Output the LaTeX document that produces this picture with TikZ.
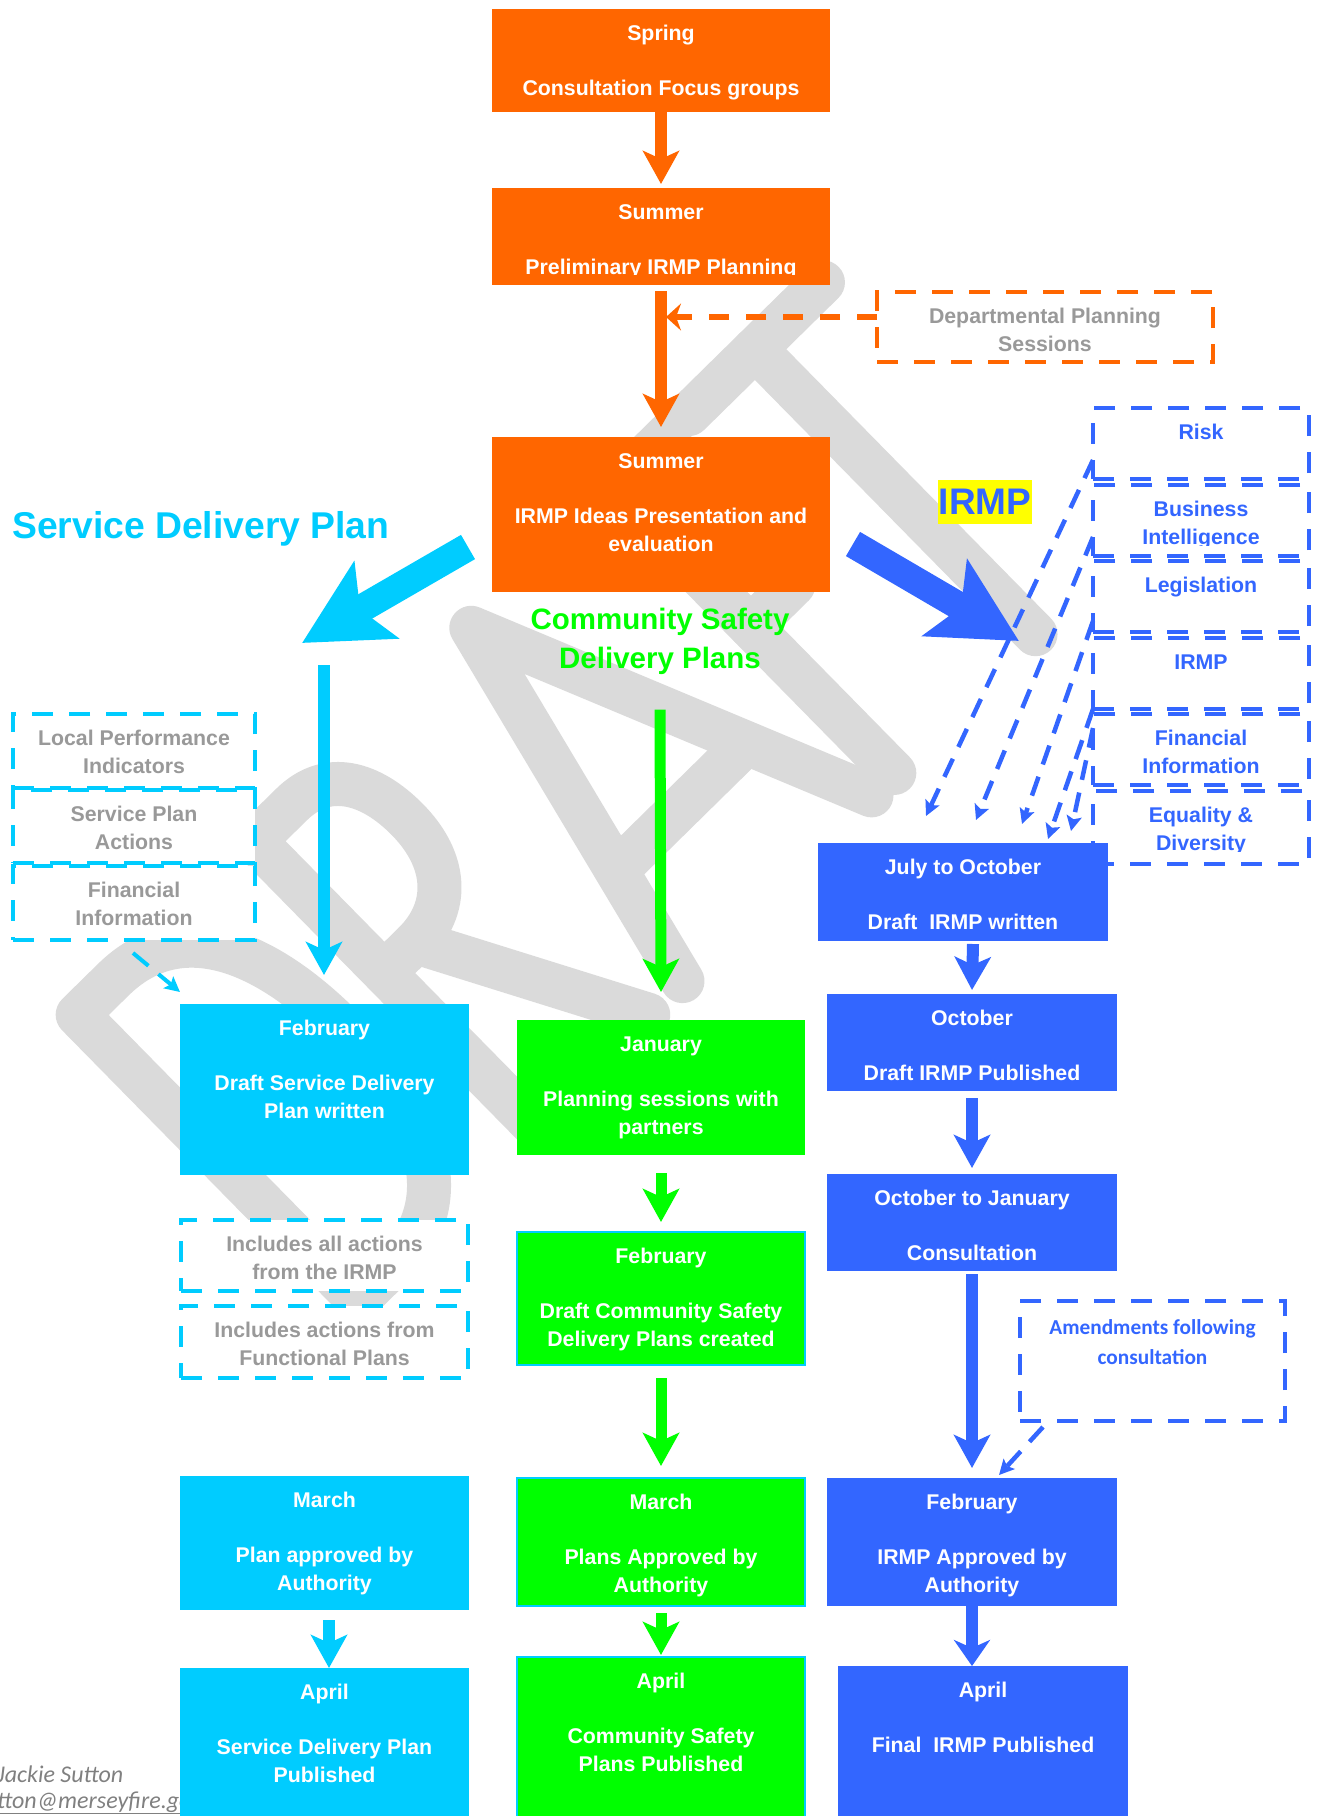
\documentclass[tikz,border=0pt]{standalone}
\usepackage{fontspec}
\setmainfont{Liberation Sans}
\newfontfamily\calibri{Carlito}
\usetikzlibrary{arrows.meta}
\definecolor{orng}{HTML}{FF6600}
\definecolor{cyn}{HTML}{00CCFF}
\definecolor{grn}{HTML}{00FF00}
\definecolor{blu}{HTML}{3366FF}
\definecolor{ylw}{HTML}{FFFF00}
\definecolor{txtgray}{HTML}{999999}
\definecolor{wmgray}{HTML}{DADADA}
\definecolor{footgray}{HTML}{808080}
\tikzset{
  box/.style={inner sep=0pt, outer sep=0pt, anchor=north west},
  solidbox/.style={box, fill=#1},
  dbox/.style={box, draw=#1, fill=white, line width=4.5pt, dash pattern=on 21pt off 16pt},
  btxt/.style={inner sep=0pt, anchor=north, align=center, font=\bfseries\fontsize{21.3pt}{28pt}\selectfont},
  wtxt/.style={btxt, text=white},
  varrow/.style={line width=12pt, -{Stealth[length=33pt, width=36pt, inset=8pt]}},
  bigarrow/.style={line width=28pt, -{Stealth[length=85pt, width=87pt, inset=18pt]}},
  darrow/.style={line width=4.5pt, dash pattern=on 20pt off 13pt, -{Stealth[length=15pt, width=15pt, inset=3pt]}},
  wmstroke/.style={draw=wmgray, line width=44pt, line cap=round, line join=round}
}
% solid box: name, colour, x, y, w, h, text
\newcommand\sbx[7]{%
  \node[solidbox=#2, minimum width=#5pt, minimum height=#6pt] (#1) at (#3,#4) {};
  \node[wtxt] (#1T) at ([yshift=-11.9pt]#1.north) {\strut #7};}
% dashed box: name, colour, text colour, x, y, w, h, text
\newcommand\dbx[8]{%
  \node[dbox=#2, minimum width=#6pt, minimum height=#7pt] (#1) at (#4,#5) {};
  \node[btxt, text=#3] (#1T) at ([yshift=-11.9pt]#1.north) {\strut #8};}
\begin{document}
\begin{tikzpicture}[x=1pt,y=-1pt]
\useasboundingbox (0,0) rectangle (1322,1816);
\clip (0,0) rectangle (1322,1816);

% ---------- watermark "DRAFT" drawn as thick strokes ----------
\begin{scope}[shift={(358,1300)}, y=1pt, rotate=44.5]
  % D
  \draw[wmstroke] (0,0) -- (0,400) -- (50,400) .. controls (140,400) and (180,320) .. (180,200)
        .. controls (180,80) and (140,0) .. (50,0) -- cycle;
  % R
  \draw[wmstroke] (248,0) -- (248,400) -- (300,400) .. controls (350,400) and (372,360) .. (372,308)
        .. controls (372,250) and (340,215) .. (290,215) -- (248,215);
  \draw[wmstroke] (292,215) -- (407,0);
  % A
  \draw[wmstroke] (455,0) -- (552,400) -- (720,0);
  \draw[wmstroke] (486,125) -- (667,125);
  % F
  \draw[wmstroke] (752,0) -- (752,400) -- (830,400);
  \draw[wmstroke] (752,205) -- (812,205);
  % T
  \draw[wmstroke] (857,400) -- (1045,400);
  \draw[wmstroke] (950,400) -- (950,0);
\end{scope}

% ---------- orange ----------
\sbx{spring}{orng}{492}{9}{338}{103}{Spring\\[26.5pt]Consultation Focus groups}
\node[solidbox=orng, minimum width=338pt, minimum height=97pt] (summer1) at (492,188) {};
\begin{scope}
  \clip (summer1.north west) rectangle ([yshift=10.5pt]summer1.south east);
  \node[wtxt] (summer1T) at ([yshift=-11.9pt]summer1.north) {\strut Summer\\[26.5pt]Preliminary IRMP Planning};
\end{scope}
\sbx{summer2}{orng}{492}{437}{338}{155}{Summer\\[26.5pt]IRMP Ideas Presentation and\\evaluation}
\dbx{dept}{orng}{txtgray}{877}{292}{336}{70}{Departmental Planning\\Sessions}

% titles
\node[anchor=base west, inner sep=0pt, text=cyn, font=\bfseries\fontsize{37.3pt}{40pt}\selectfont] (sdp) at (12,538) {Service Delivery Plan};
\node[fill=ylw, inner sep=0pt, minimum width=94pt, minimum height=44pt, text=blu, font=\bfseries\fontsize{37pt}{40pt}\selectfont] (irmplabel) at (985,502) {IRMP};
\node[inner sep=0pt, anchor=north, align=center, text=grn, font=\bfseries\fontsize{29.5pt}{39pt}\selectfont] (csdp) at (660,601.7) {\strut Community Safety\\Delivery Plans};

% ---------- cyan column ----------
\dbx{lpi}{cyn}{txtgray}{13}{714}{242}{74}{Local Performance\\Indicators}
\dbx{spa}{cyn}{txtgray}{13}{790}{242}{73}{Service Plan\\Actions}
\dbx{fi}{cyn}{txtgray}{13}{866}{242}{74}{Financial\\Information}
\sbx{febC}{cyn}{180}{1004}{289}{171}{February\\[26.5pt]Draft Service Delivery\\Plan written}
\dbx{incA}{cyn}{txtgray}{181}{1220}{287}{71}{Includes all actions\\from the IRMP}
\dbx{incB}{cyn}{txtgray}{181}{1306}{287}{72}{Includes actions from\\Functional Plans}
\sbx{marchC}{cyn}{180}{1476}{289}{134}{March\\[26.5pt]Plan approved by\\Authority}

% footer (partly under the April box)
\node[anchor=base west, inner sep=0pt, text=footgray, font=\calibri\itshape\fontsize{24pt}{28pt}\selectfont] (author) at (-3,1782) {Jackie Sutton};
\node[anchor=base west, inner sep=0pt, text=footgray, font=\calibri\itshape\fontsize{24pt}{28pt}\selectfont] (email) at (-3,1808) {\underline{tton@merseyfire.gov.uk}};

\sbx{aprilC}{cyn}{180}{1668}{289}{170}{April\\[26.5pt]Service Delivery Plan\\Published}

% ---------- green column ----------
\sbx{janG}{grn}{517}{1020}{288}{135}{January\\[26.5pt]Planning sessions with\\partners}
\sbx{febG}{grn}{517}{1232}{288}{133}{February\\[26.5pt]Draft Community Safety\\Delivery Plans created}
\sbx{marchG}{grn}{517}{1478}{288}{128}{March\\[26.5pt]Plans Approved by\\Authority}
\sbx{aprilG}{grn}{517}{1657}{288}{170}{April\\[26.5pt]Community Safety\\Plans Published}
\foreach \n in {febG,marchG,aprilG} \draw[cyn, line width=2pt] (\n.north west) rectangle (\n.south east);

% ---------- blue column ----------
\dbx{risk}{blu}{blu}{1093}{408}{216}{71}{Risk}
\node[dbox=blu, minimum width=216pt, minimum height=71pt] (bi) at (1093,485) {};
\begin{scope}
  \clip (bi.north west) rectangle ([yshift=11pt]bi.south east);
  \node[btxt, text=blu] (biT) at ([yshift=-11.9pt]bi.north) {\strut Business\\Intelligence};
\end{scope}
\dbx{leg}{blu}{blu}{1093}{561}{216}{71}{Legislation}
\dbx{irmp}{blu}{blu}{1093}{638}{216}{71}{IRMP}
\dbx{fin}{blu}{blu}{1093}{714}{216}{71}{Financial\\Information}
\node[dbox=blu, minimum width=216pt, minimum height=73pt] (eq) at (1093,791) {};
\begin{scope}
  \clip (eq.north west) rectangle ([yshift=13pt]eq.south east);
  \node[btxt, text=blu] (eqT) at ([yshift=-11.9pt]eq.north) {\strut Equality \&\\Diversity};
\end{scope}
\sbx{julyB}{blu}{818}{843}{290}{98}{July to October\\[26.5pt]Draft\ \ IRMP written}
\sbx{octB}{blu}{827}{994}{290}{97}{October\\[26.5pt]Draft IRMP Published}
\sbx{ocjB}{blu}{827}{1174}{290}{97}{October to January\\[26.5pt]Consultation}
\node[dbox=blu, minimum width=265pt, minimum height=120pt] (amend) at (1020,1301) {};
\node[inner sep=0pt, anchor=north, align=center, text=blu, font=\calibri\bfseries\fontsize{21.3pt}{30pt}\selectfont] (amendT) at ([yshift=-12pt]amend.north) {\strut Amendments following\\consultation};
\sbx{febB}{blu}{827}{1478}{290}{128}{February\\[26.5pt]IRMP Approved by\\Authority}
\sbx{aprilB}{blu}{838}{1666}{290}{170}{April\\[26.5pt]Final\ \ IRMP Published}

% ---------- coordinates ----------
\coordinate (deptIn) at (666,317);
\coordinate (sdpTip) at (302,643);
\coordinate (irmpTip) at (1019,641);
\coordinate (fiTip) at (180,992);
\coordinate (amTip) at (999,1475);
\coordinate (e1) at (926,816);
\coordinate (e2) at (976,820);
\coordinate (e3) at (1022,824);
\coordinate (e4) at (1048,839);
\coordinate (e5) at (1071,831);

% ---------- connectors ----------
\draw[varrow, orng] (spring.south) -- ([yshift=-72pt]spring.south);
\draw[varrow, orng] ([yshift=-6pt]summer1.south) -- ([yshift=10pt]summer2.north);
\draw[orng, line width=5.5pt, dash pattern=on 20pt off 17pt, -{Stealth[length=15pt, width=27pt, inset=5pt]}] ([yshift=10pt]dept.west) -- (deptIn);

\draw[bigarrow, cyn] ([xshift=-24pt, yshift=-32.5pt]summer2.west) -- (sdpTip);
\draw[bigarrow, blu] ([xshift=23pt, yshift=-29.5pt]summer2.east) -- (irmpTip);

% cyan
\draw[varrow, cyn] (324,665) -- ([xshift=-0.5pt, yshift=29pt]febC.north);
\draw[darrow, cyn, line width=4pt] ([xshift=120pt, yshift=-13pt]fi.south west) -- (fiTip);
\draw[varrow, cyn] ([xshift=4.5pt, yshift=-10pt]marchC.south) -- ([xshift=4.5pt]aprilC.north);

% green
\draw[varrow, grn, line width=11pt] ([yshift=-35pt]csdp.south) -- ([yshift=28pt]janG.north);
\draw[varrow, grn, line width=11pt] ([yshift=-18pt]janG.south) -- ([yshift=10pt]febG.north);
\draw[varrow, grn, line width=11pt] ([yshift=-13pt]febG.south) -- ([yshift=12pt]marchG.north);
\draw[varrow, grn, line width=11pt] ([yshift=-7pt]marchG.south) -- ([yshift=2pt]aprilG.north);

% blue
\draw[varrow, blu] ([xshift=10pt, yshift=-3pt]julyB.south) -- ([yshift=4pt]octB.north);
\draw[varrow, blu] ([yshift=-7pt]octB.south) -- ([yshift=6pt]ocjB.north);
\draw[varrow, blu] ([yshift=-3pt]ocjB.south) -- ([yshift=10pt]febB.north);
\draw[varrow, blu, -{Stealth[length=26pt, width=36pt, inset=8pt]}] (febB.south) -- ([xshift=-11pt]aprilB.north);
\draw[darrow, blu] ([xshift=23pt, yshift=-6pt]amend.south west) -- (amTip);

\draw[darrow, blu] ([yshift=19pt]risk.south west) -- (e1);
\draw[darrow, blu] ([yshift=19pt]bi.south west) -- (e2);
\draw[darrow, blu] ([yshift=11pt]leg.south west) -- (e3);
\draw[darrow, blu] (irmp.south west) -- (e4);
\draw[darrow, blu] ([yshift=-14pt]fin.north west) -- (e5);
\end{tikzpicture}
\end{document}
